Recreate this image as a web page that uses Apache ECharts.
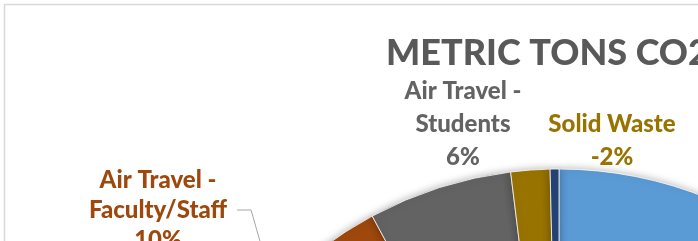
<!DOCTYPE html>
<html lang="en">
<head>
    <meta charset="UTF-8">
    <title>co2</title>
    <script src="https://cdn.jsdelivr.net/npm/echarts@6/dist/echarts.min.js"></script>
    <style>
        body { margin: 0; background: #fff; }
        #chart { width: 698px; height: 241px; }
    </style>
</head>
<body>
<div id="chart"></div>
<script type="application/javascript">
    // sources, clockwise from 12 o'clock (metric tons CO2e)
    var categories = ['Purchased Electricity', 'Natural Gas', 'Commuting - Faculty/Staff', 'Commuting - Students',
        'Fleet Fuel', 'Refrigerants', 'T&D Losses', 'Air Travel - Faculty/Staff', 'Air Travel - Students',
        'Solid Waste', 'Wastewater'];
    var values = [8200, 3100, 1500, 900, 1100, 900, 728, 2000, 1180, -320, 72];
    var colors = ['#5B9BD5', '#ED7D31', '#A5A5A5', '#FFC000', '#4472C4', '#70AD47', '#255E91',
        '#9E480E', '#636363', '#997300', '#264478'];
    var labelNames = {7: 'Air Travel -\nFaculty/Staff', 8: 'Air Travel -\nStudents', 9: 'Solid Waste'};
    // label centres (px) and line heights for the labels that show in the picture
    var labelPos = {7: [158, 210], 8: [463, 124], 9: [612, 141]};
    var labelLH = {7: 30, 8: 33, 9: 33};

    var total = 0;
    for (var i = 0; i < values.length; i++) total += Math.abs(values[i]);

    var pieData = [];
    for (var i = 0; i < values.length; i++) {
        var pct = Math.round(values[i] / total * 100);
        var item = {
            name: categories[i],
            value: Math.abs(values[i]),
            itemStyle: {color: colors[i]},
            label: {show: false},
            labelLine: {show: false}
        };
        if (labelNames[i]) {
            item.label = {
                show: true,
                formatter: labelNames[i] + '\n' + pct + '%',
                color: colors[i],
                lineHeight: labelLH[i]
            };
            item.labelLine = {show: i === 7};
        }
        pieData.push(item);
    }

    var chart = echarts.init(document.getElementById('chart'));
    chart.setOption({
        animation: false,
        title: {
            text: 'METRIC TONS CO2e BY SOURCE',
            left: 381,
            top: 30,
            textStyle: {fontFamily: 'Lato', fontWeight: 900, fontSize: 36, color: '#595959'}
        },
        graphic: [{
            type: 'rect',
            shape: {x: 4.5, y: 4.5, width: 900, height: 500},
            style: {fill: null, stroke: '#d9d9d9', lineWidth: 1.5},
            silent: true
        }],
        series: [{
            type: 'pie',
            center: [559, 563],
            radius: 394,
            startAngle: 90,
            clockwise: true,
            avoidLabelOverlap: false,
            itemStyle: {
                borderColor: '#fff',
                borderWidth: 0.8,
                shadowBlur: 8,
                shadowColor: 'rgba(0,0,0,0.3)'
            },
            label: {
                position: 'outside',
                fontFamily: 'Lato',
                fontWeight: 900,
                fontSize: 24,
                align: 'center'
            },
            labelLine: {
                lineStyle: {color: '#a6a6a6', width: 1}
            },
            labelLayout: function (params) {
                var p = labelPos[params.dataIndex];
                if (!p) return {};
                var w = params.labelRect.width;
                var out = {x: p[0], y: p[1], align: 'center', verticalAlign: 'middle'};
                if (params.dataIndex === 7 && params.labelLinePoints) {
                    var right = p[0] + w / 2;
                    out.labelLinePoints = [
                        params.labelLinePoints[0],
                        [right + 24, p[1]],
                        [right + 10, p[1]]
                    ];
                }
                return out;
            },
            data: pieData
        }]
    });
</script>
</body>
</html>
